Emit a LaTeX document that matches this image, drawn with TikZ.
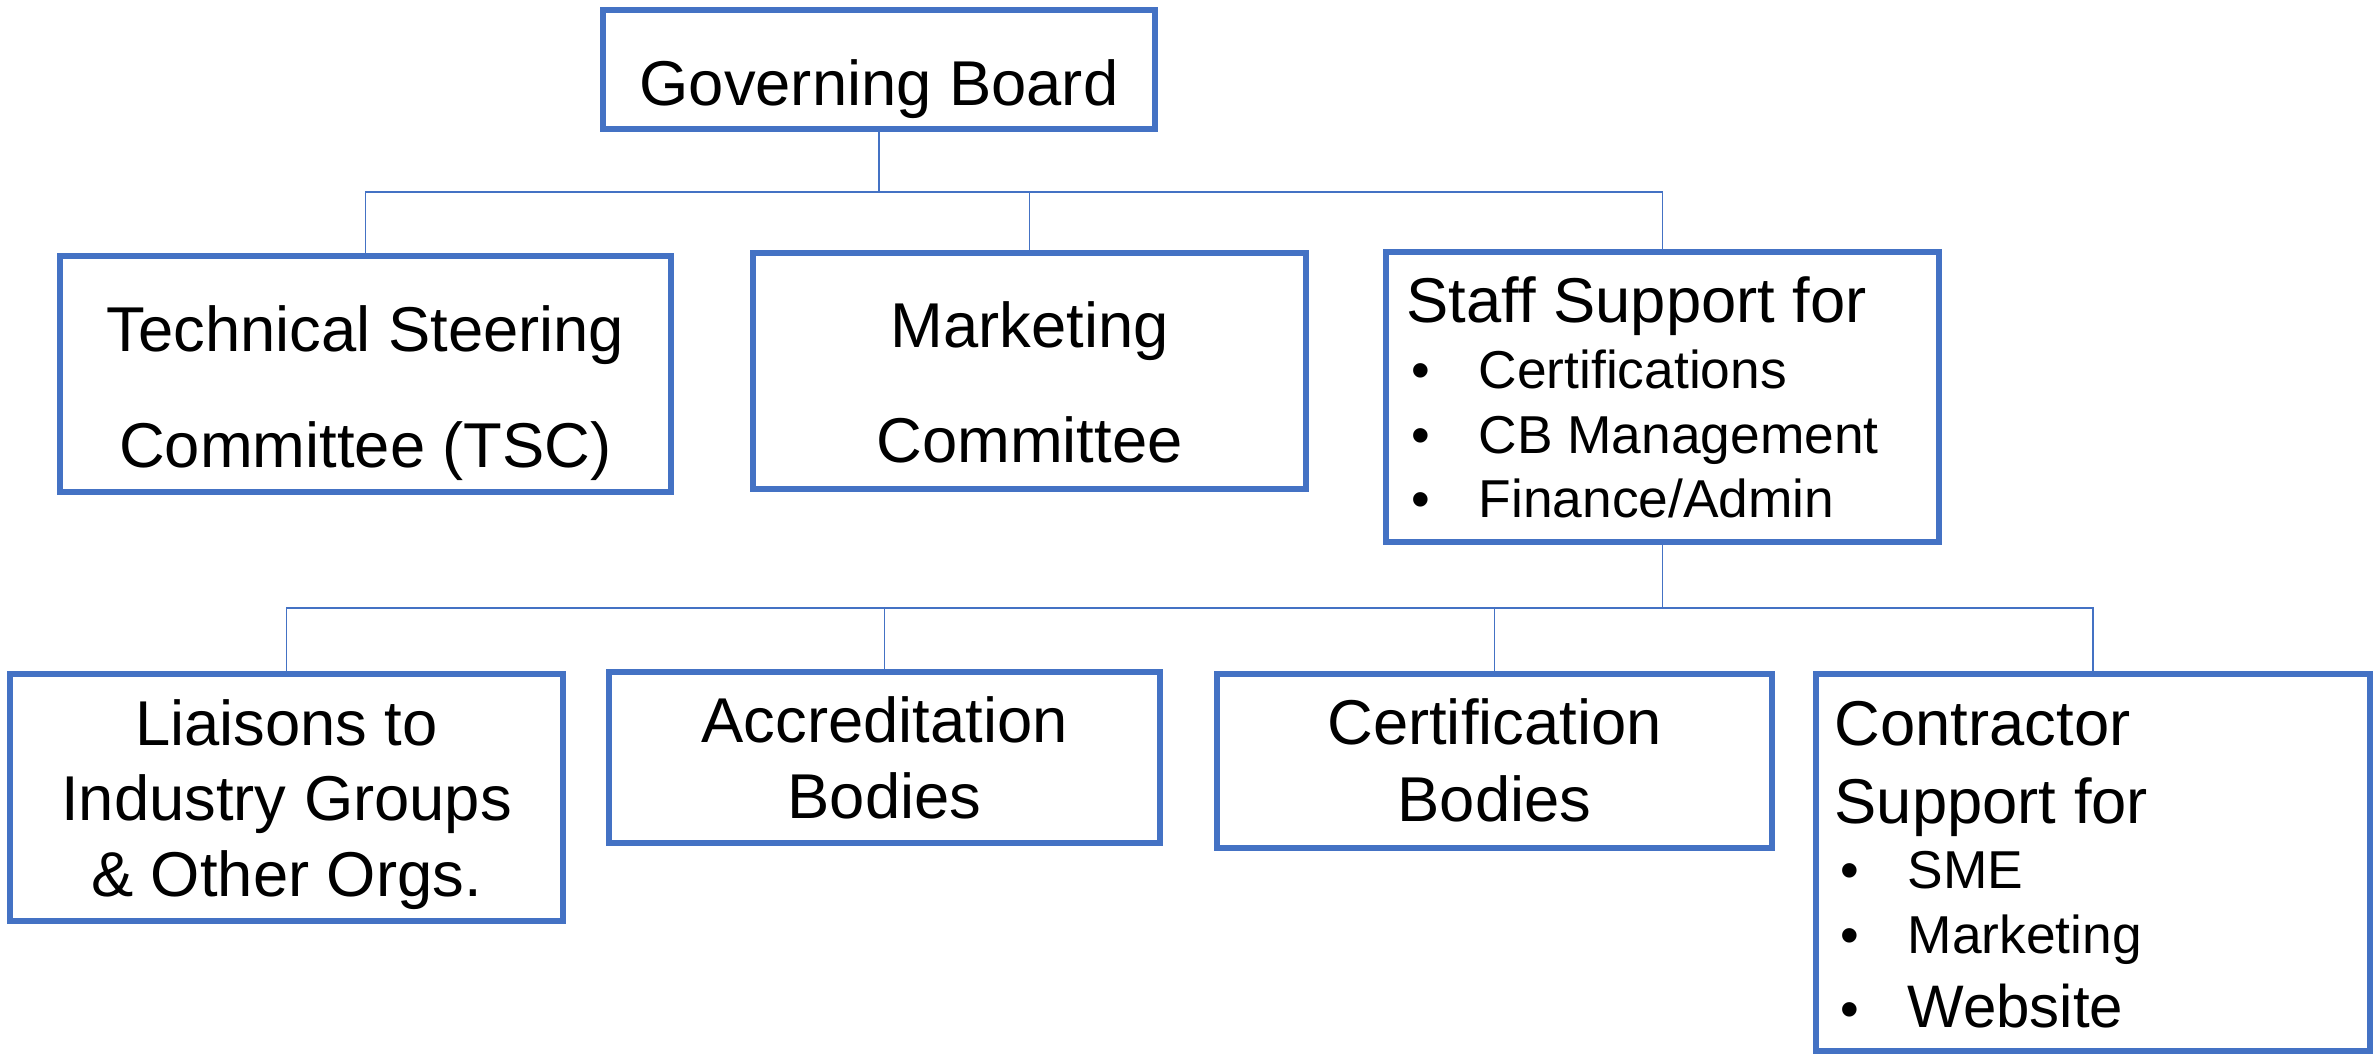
\documentclass[tikz,border=0pt]{standalone}
\usepackage{fontspec}
\setmainfont{Liberation Sans}
\definecolor{obl}{HTML}{4472C4}
\tikzset{
  box/.style={draw=obl, line width=1.55pt, inner sep=0pt, rectangle, fill=white},
  conn/.style={draw=obl, line width=0.45pt},
  big/.style={inner sep=0pt, anchor=base, font=\fontsize{19}{23}\selectfont},
  bigl/.style={big, anchor=base west},
  sml/.style={inner sep=0pt, anchor=base west, font=\fontsize{16}{19}\selectfont},
  smlb/.style={inner sep=0pt, anchor=base west, font=\fontsize{18}{21}\selectfont},
}
\newcommand{\mkbox}[5]{\node[box, minimum width={(#4-#2)*0.3pt}, minimum height={(#5-#3)*0.3pt}] (#1) at ({(#2+#4)/2},{(#3+#5)/2}) {};}
\begin{document}
\begin{tikzpicture}[x=0.3pt, y=-0.3pt]
\useasboundingbox (0,0) rectangle (2379,1054);
% boxes
\mkbox{gb}{603}{10}{1155}{129}
\mkbox{tsc}{60}{256}{671}{492}
\mkbox{mkt}{753}{253}{1306}{489}
\mkbox{stf}{1386}{252}{1939}{542}
\mkbox{lia}{10}{674}{563}{921}
\mkbox{acc}{609}{672}{1160}{843}
\mkbox{cer}{1217}{674}{1772}{848}
\mkbox{con}{1816}{674}{2370}{1051}
% connectors
\coordinate (j1) at (879,192);
\coordinate (j2) at (1662.5,608);
\draw[conn] (gb.south) -- (j1);
\draw[conn] (j1) -| (tsc.north);
\draw[conn] (j1) -| (mkt.north);
\draw[conn] (j1) -| (stf.north);
\draw[conn] (stf.south) -- (j2);
\draw[conn] (j2) -| (lia.north);
\draw[conn] (j2) -| (acc.north);
\draw[conn] (j2) -| (cer.north);
\draw[conn] (j2) -| (con.north);
% texts
\node[big] (tgb) at (879,106) {Governing Board};
\node[big] (ttsc1) at (365.5,352) {Technical Steering};
\node[big] (ttsc2) at (365.5,467) {Committee (TSC)};
\node[big] (tmkt1) at (1029.5,348) {Marketing};
\node[big] (tmkt2) at (1029.5,463) {Committee};
\node[bigl] (tstf) at (1406,323) {Staff Support for};
\node[sml] (bs1) at (1411,389) {\textbullet};
\node[sml] (ts1) at (1478,389) {Certifications};
\node[sml] (bs2) at (1411,454) {\textbullet};
\node[sml] (ts2) at (1478,454) {CB Management};
\node[sml] (bs3) at (1411,517) {\textbullet};
\node[sml] (ts3) at (1478,517) {Finance/Admin};
\node[big] (tlia1) at (286.5,745) {Liaisons to};
\node[big] (tlia2) at (286.5,820) {Industry Groups};
\node[big] (tlia3) at (286.5,896) {\&~Other Orgs.};
\node[big] (tacc1) at (884.5,742) {Accreditation};
\node[big] (tacc2) at (884.5,818) {Bodies};
\node[big] (tcer1) at (1494.5,744) {Certification};
\node[big] (tcer2) at (1494.5,821) {Bodies};
\node[bigl] (tcon1) at (1834,745) {Contractor};
\node[bigl] (tcon2) at (1834,823) {Support for};
\node[sml] (bc1) at (1840,888) {\textbullet};
\node[sml] (tc1) at (1907,888) {SME};
\node[sml] (bc2) at (1840,953) {\textbullet};
\node[sml] (tc2) at (1907,953) {Marketing};
\node[sml] (bc3) at (1840,1027) {\textbullet};
\node[smlb] (tc3) at (1907,1027) {Website};
\end{tikzpicture}
\end{document}
